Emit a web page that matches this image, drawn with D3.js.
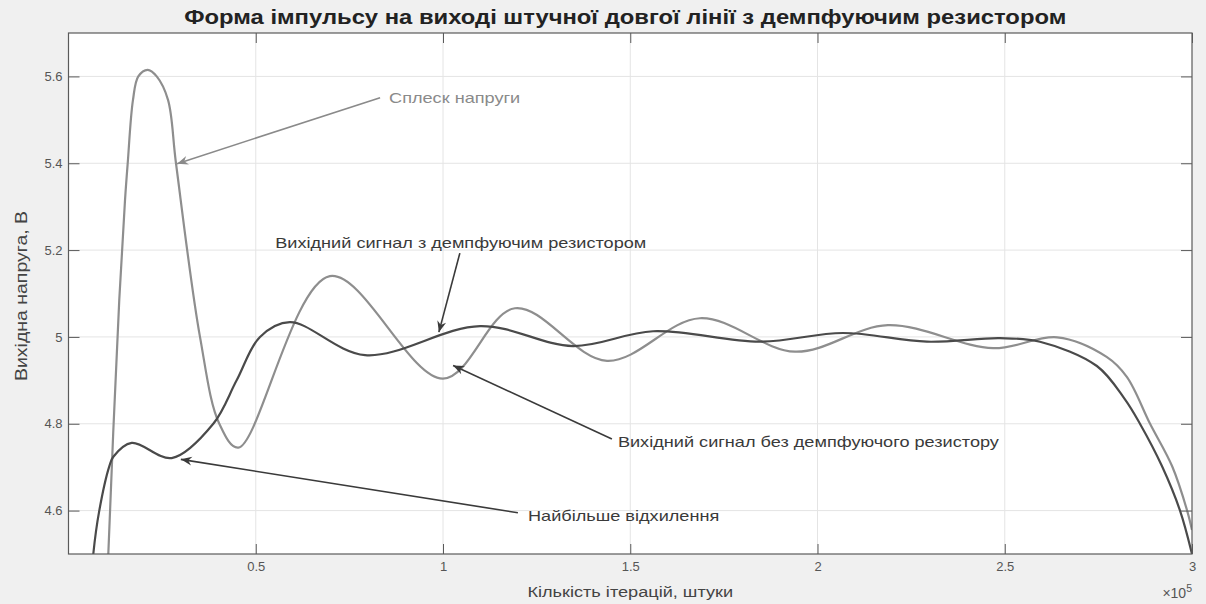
<!DOCTYPE html>
<html>
<head>
<meta charset="utf-8">
<script src="https://cdn.jsdelivr.net/npm/d3@7"></script>
<style>
  html, body { margin: 0; padding: 0; background: #f0f0f0; }
  svg { display: block; font-family: "Liberation Sans", Arial, sans-serif; }
</style>
</head>
<body>
<div id="chart"></div>
<script>
// x values are in units of 1e5 iterations
const lightX = [0.095, 0.1063, 0.1356, 0.1509, 0.1581, 0.1722, 0.1864, 0.2115, 0.2355, 0.2657, 0.2870, 0.3511, 0.4027, 0.4534,
  0.698, 1.0, 1.192, 1.438, 1.686, 1.94, 2.188, 2.469, 2.64, 2.772, 2.826, 2.888, 2.947, 2.987, 3.0];
const lightY = [4.2, 4.5, 5.086, 5.315, 5.4, 5.546, 5.6, 5.615, 5.6, 5.546, 5.4, 5.0, 4.8, 4.745,
  5.14, 4.904, 5.066, 4.945, 5.043, 4.966, 5.027, 4.974, 4.999, 4.954, 4.908, 4.8, 4.702, 4.6, 4.555];

const darkX = [0.055, 0.0662, 0.0822, 0.1089, 0.1197, 0.1688, 0.2756, 0.3866, 0.449, 0.5113, 0.591, 0.792, 1.099, 1.347, 1.561,
  1.846, 2.068, 2.292, 2.487, 2.594, 2.746, 2.821, 2.861, 2.920, 2.968, 3.0];
const darkY = [4.35, 4.5, 4.6, 4.702, 4.724, 4.756, 4.721, 4.8, 4.9, 5.0, 5.034, 4.958, 5.025, 4.979, 5.013,
  4.989, 5.009, 4.989, 4.997, 4.989, 4.933, 4.856, 4.8, 4.702, 4.6, 4.5];

const xTicks = [0.5, 1, 1.5, 2, 2.5, 3];
const xTickLabels = ['0.5', '1', '1.5', '2', '2.5', '3'];
const yTicks = [4.6, 4.8, 5, 5.2, 5.4, 5.6];
const yTickLabels = ['4.6', '4.8', '5', '5.2', '5.4', '5.6'];

const title = 'Форма імпульсу на виході штучної довгої лінії з демпфуючим резистором';
const xTitle = 'Кількість ітерацій, штуки';
const yTitle = 'Вихідна напруга, В';

// annotations: text anchor and arrow from (x1,y1) to tip (x2,y2), all in data units
const notes = [
  { text: 'Сплеск напруги', tx: 0.856, ty: 5.550, x1: 0.832, y1: 5.551, x2: 0.290, y2: 5.399, color: '#8a8a8a' },
  { text: 'Вихідний сигнал з демпфуючим резистором', tx: 0.552, ty: 5.216, x1: 1.045, y1: 5.193, x2: 0.989, y2: 5.011, color: '#3a3a3a' },
  { text: 'Вихідний сигнал без демпфуючого резистору', tx: 1.467, ty: 4.758, x1: 1.451, y1: 4.765, x2: 1.027, y2: 4.934, color: '#3a3a3a' },
  { text: 'Найбільше відхилення', tx: 1.227, ty: 4.587, x1: 1.200, y1: 4.595, x2: 0.300, y2: 4.718, color: '#3a3a3a' }
];

const W = 1206, H = 604;
const margin = { top: 33, right: 14, bottom: 50, left: 68.5 };
const width = W - margin.left - margin.right;
const height = H - margin.top - margin.bottom;

// the source picture is a bit stretched sideways, so text is widened to match
const stretch = (sel, k) => sel.each(function() {
  const len = this.getComputedTextLength();
  d3.select(this).attr('textLength', len * k).attr('lengthAdjust', 'spacingAndGlyphs');
});

const svgRoot = d3.select('#chart').append('svg')
  .attr('width', W)
  .attr('height', H);

svgRoot.append('rect').attr('width', W).attr('height', H).attr('fill', '#f0f0f0');

const defs = svgRoot.append('defs');
defs.append('clipPath').attr('id', 'plot-clip')
  .append('rect').attr('width', width).attr('height', height);

notes.forEach((n, i) => {
  defs.append('marker')
    .attr('id', 'arrow' + i)
    .attr('viewBox', '-12 -6 14 12')
    .attr('refX', 0).attr('refY', 0)
    .attr('markerWidth', 14).attr('markerHeight', 12)
    .attr('markerUnits', 'userSpaceOnUse')
    .attr('orient', 'auto')
    .append('path')
    .attr('d', 'M0,0 L-11,-4.5 L-7.5,0 L-11,4.5 Z')
    .attr('fill', n.color);
});

const svg = svgRoot.append('g')
  .attr('transform', `translate(${margin.left},${margin.top})`);

const x = d3.scaleLinear().domain([0, 3]).range([0, width]);
const y = d3.scaleLinear().domain([4.5, 5.7]).range([height, 0]);

svg.append('rect').attr('width', width).attr('height', height).attr('fill', '#ffffff');

// grid
svg.append('g')
  .selectAll('line')
  .data(xTicks.slice(0, -1))
  .enter()
  .append('line')
  .attr('x1', d => x(d)).attr('x2', d => x(d))
  .attr('y1', 0).attr('y2', height)
  .attr('stroke', '#e4e4e4')
  .attr('stroke-width', 1);

svg.append('g')
  .selectAll('line')
  .data(yTicks)
  .enter()
  .append('line')
  .attr('x1', 0).attr('x2', width)
  .attr('y1', d => y(d)).attr('y2', d => y(d))
  .attr('stroke', '#e4e4e4')
  .attr('stroke-width', 1);

// curves
const line = d3.line()
  .x(d => x(d[0]))
  .y(d => y(d[1]))
  .curve(d3.curveCatmullRom.alpha(0.5));

const plot = svg.append('g').attr('clip-path', 'url(#plot-clip)');

plot.append('path')
  .datum(lightX.map((v, i) => [v, lightY[i]]))
  .attr('fill', 'none')
  .attr('stroke', '#8e8e8e')
  .attr('stroke-width', 2.2)
  .attr('d', line);

plot.append('path')
  .datum(darkX.map((v, i) => [v, darkY[i]]))
  .attr('fill', 'none')
  .attr('stroke', '#4a4a4a')
  .attr('stroke-width', 2.2)
  .attr('d', line);

// axes (MATLAB-style inward ticks, box on)
const axisColor = '#5a5a5a';
const styleAxis = g => {
  g.select('.domain').remove();
  g.selectAll('line').attr('stroke', axisColor);
  g.selectAll('text').attr('fill', '#555').style('font-size', '13px');
};

svg.append('g')
  .attr('transform', `translate(0,${height})`)
  .call(d3.axisBottom(x).tickValues(xTicks).tickSize(-10).tickPadding(8)
    .tickFormat((d, i) => xTickLabels[i]))
  .call(styleAxis);

svg.append('g')
  .call(d3.axisTop(x).tickValues(xTicks).tickSize(-10).tickFormat(''))
  .call(styleAxis);

svg.append('g')
  .call(d3.axisLeft(y).tickValues(yTicks).tickSize(-11).tickPadding(6)
    .tickFormat((d, i) => yTickLabels[i]))
  .call(styleAxis);

svg.append('g')
  .attr('transform', `translate(${width},0)`)
  .call(d3.axisRight(y).tickValues(yTicks).tickSize(-11).tickFormat(''))
  .call(styleAxis);

svg.append('rect')
  .attr('width', width).attr('height', height)
  .attr('fill', 'none')
  .attr('stroke', axisColor)
  .attr('stroke-width', 1.2);

// annotations
const ann = svg.append('g');
notes.forEach((n, i) => {
  ann.append('line')
    .attr('x1', x(n.x1)).attr('y1', y(n.y1))
    .attr('x2', x(n.x2)).attr('y2', y(n.y2))
    .attr('stroke', n.color)
    .attr('stroke-width', 1.6)
    .attr('marker-end', `url(#arrow${i})`);
  ann.append('text')
    .attr('x', x(n.tx)).attr('y', y(n.ty))
    .attr('dy', '0.35em')
    .attr('fill', n.color)
    .style('font-size', '14.5px')
    .text(n.text)
    .call(stretch, 1.25);
});

// titles
svgRoot.append('text')
  .attr('x', margin.left + width / 2 - 5)
  .attr('y', 24)
  .attr('text-anchor', 'middle')
  .attr('fill', '#222')
  .style('font-size', '19.5px')
  .style('font-weight', 'bold')
  .text(title)
  .call(stretch, 1.22);

svgRoot.append('text')
  .attr('x', margin.left + x(1.5))
  .attr('y', 597)
  .attr('text-anchor', 'middle')
  .attr('fill', '#444')
  .style('font-size', '15.5px')
  .text(xTitle)
  .call(stretch, 1.17);

svgRoot.append('text')
  .attr('transform', `translate(27,${margin.top + height / 2 + 2.5}) rotate(-90)`)
  .attr('text-anchor', 'middle')
  .attr('fill', '#444')
  .style('font-size', '16.5px')
  .text(yTitle)
  .call(stretch, 1.18);

const expo = svgRoot.append('text')
  .attr('x', margin.left + width)
  .attr('y', 598)
  .attr('text-anchor', 'end')
  .attr('fill', '#555')
  .style('font-size', '14px');
expo.append('tspan').text('×10');
expo.append('tspan').attr('dy', -6).style('font-size', '10.5px').text('5');
</script>
</body>
</html>
